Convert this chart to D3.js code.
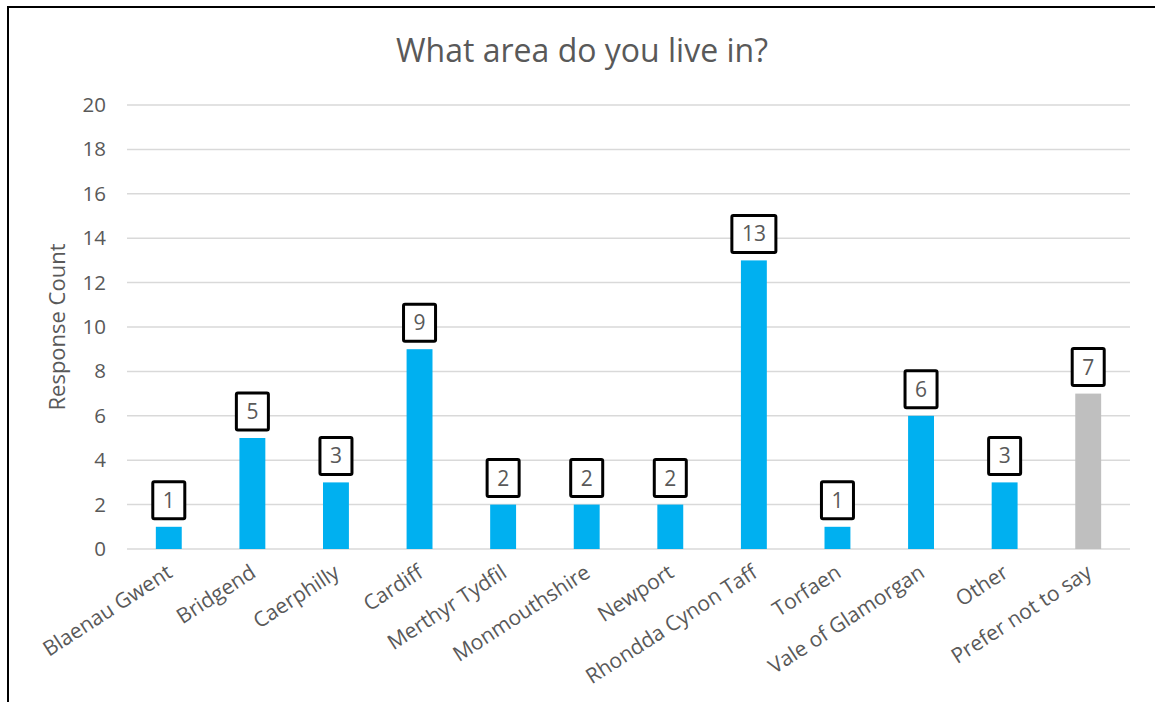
<!DOCTYPE html>
<html>
<head>
<meta charset="utf-8">
<script src="https://cdn.jsdelivr.net/npm/d3@7"></script>
<style>
  html, body { margin: 0; padding: 0; background: #fff; }
  svg { display: block; font-family: "Open Sans", sans-serif; }
</style>
</head>
<body>
<svg id="chart" width="1155" height="702"></svg>
<script>
// Survey responses by area
const categories = [
  "Blaenau Gwent", "Bridgend", "Caerphilly", "Cardiff", "Merthyr Tydfil",
  "Monmouthshire", "Newport", "Rhondda Cynon Taff", "Torfaen",
  "Vale of Glamorgan", "Other", "Prefer not to say"
];
const counts = [1, 5, 3, 9, 2, 2, 2, 13, 1, 6, 3, 7];
const barColors = ["#00b0f0", "#00b0f0", "#00b0f0", "#00b0f0", "#00b0f0", "#00b0f0",
                   "#00b0f0", "#00b0f0", "#00b0f0", "#00b0f0", "#00b0f0", "#bfbfbf"];
const yTicks = [0, 2, 4, 6, 8, 10, 12, 14, 16, 18, 20];
const titleText = "What area do you live in?";
const yAxisTitle = "Response Count";

const svg = d3.select("#chart");
const textColor = "#595959";

// outer frame (top and left edges)
svg.append("path")
  .attr("d", "M8,702 V7 H1155")
  .attr("fill", "none")
  .attr("stroke", "#000")
  .attr("stroke-width", 2);

const plot = { left: 127, right: 1130, top: 105, bottom: 549 };

const x = d3.scaleBand()
  .domain(categories)
  .range([plot.left, plot.right])
  .paddingInner(0.69)
  .paddingOuter(0.345);

const y = d3.scaleLinear()
  .domain([0, 20])
  .range([plot.bottom, plot.top]);

// gridlines
svg.append("g")
  .selectAll("line")
  .data(yTicks)
  .join("line")
  .attr("x1", plot.left)
  .attr("x2", plot.right)
  .attr("y1", d => y(d))
  .attr("y2", d => y(d))
  .attr("stroke", "#d9d9d9")
  .attr("stroke-width", 1.5);

// y axis tick labels
const yAxis = d3.axisLeft(y).tickValues(yTicks).tickSize(0).tickPadding(0);
const yg = svg.append("g")
  .attr("transform", `translate(${plot.left - 21},0)`)
  .call(yAxis);
yg.select(".domain").remove();
yg.selectAll("text")
  .attr("fill", textColor)
  .attr("font-size", 20.5)
  .attr("font-family", "'Open Sans', sans-serif");

// bars
svg.append("g")
  .selectAll("rect")
  .data(categories)
  .join("rect")
  .attr("x", d => x(d))
  .attr("width", x.bandwidth())
  .attr("y", (d, i) => y(counts[i]))
  .attr("height", (d, i) => y(0) - y(counts[i]))
  .attr("fill", (d, i) => barColors[i]);

// data labels in boxed callouts
const labels = svg.append("g")
  .selectAll("g")
  .data(categories)
  .join("g")
  .attr("transform", (d, i) => `translate(${x(d) + x.bandwidth() / 2},${y(counts[i]) - 7})`);

labels.append("text")
  .attr("text-anchor", "middle")
  .attr("y", -12)
  .attr("fill", textColor)
  .attr("font-size", 21)
  .text((d, i) => counts[i]);

labels.each(function () {
  const g = d3.select(this);
  const w = g.select("text").node().getComputedTextLength();
  const bw = Math.max(30, w + 20);
  g.insert("rect", "text")
    .attr("x", -bw / 2)
    .attr("y", -38)
    .attr("width", bw)
    .attr("height", 37)
    .attr("fill", "#fff")
    .attr("stroke", "#000")
    .attr("stroke-width", 3)
    .attr("rx", 1.5);
});

// category labels, rotated
svg.append("g")
  .selectAll("text")
  .data(categories)
  .join("text")
  .attr("transform", d => `translate(${x(d) + x.bandwidth() / 2 + 5},${plot.bottom + 27}) rotate(-33)`)
  .attr("text-anchor", "end")
  .attr("fill", textColor)
  .attr("font-size", 21)
  .text(d => d);

// y axis title
svg.append("text")
  .attr("transform", `translate(65,${(plot.top + plot.bottom) / 2}) rotate(-90)`)
  .attr("text-anchor", "middle")
  .attr("fill", textColor)
  .attr("font-size", 22)
  .text(yAxisTitle);

// chart title
svg.append("text")
  .attr("x", 582)
  .attr("y", 62)
  .attr("text-anchor", "middle")
  .attr("fill", textColor)
  .attr("font-size", 32)
  .text(titleText);
</script>
</body>
</html>
